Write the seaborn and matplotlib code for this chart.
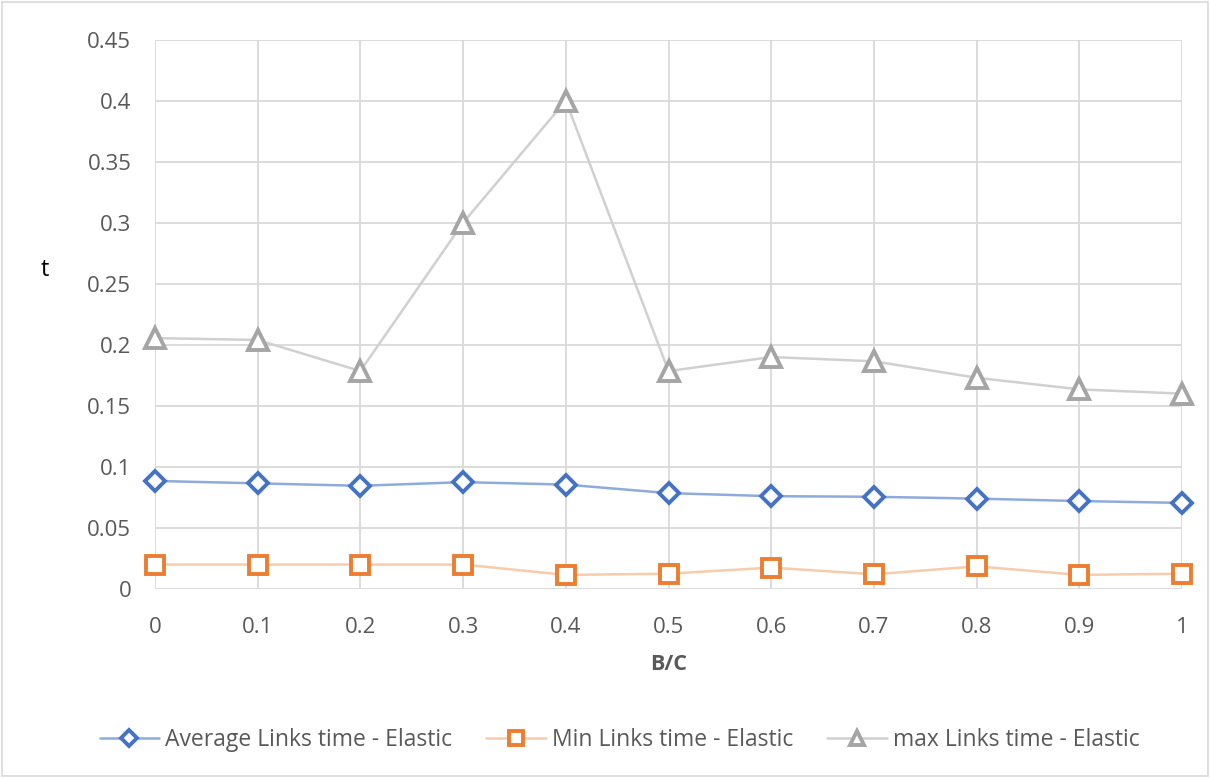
import matplotlib
matplotlib.use("Agg")
import matplotlib.pyplot as plt
import matplotlib.patches as mpatches
import seaborn as sns
import pandas as pd

# values
bc = [0, 0.1, 0.2, 0.3, 0.4, 0.5, 0.6, 0.7, 0.8, 0.9, 1]
avg_time = [0.0885, 0.0865, 0.0845, 0.0875, 0.0855, 0.0785, 0.0760, 0.0755, 0.0740, 0.0720, 0.0705]
min_time = [0.0200, 0.0200, 0.0200, 0.0200, 0.0115, 0.0125, 0.0175, 0.0120, 0.0185, 0.0115, 0.0125]
max_time = [0.2055, 0.2040, 0.1785, 0.3000, 0.4000, 0.1785, 0.1900, 0.1865, 0.1730, 0.1635, 0.1600]
labels = ["Average Links time - Elastic", "Min Links time - Elastic", "max Links time - Elastic"]
yticks = [0, 0.05, 0.1, 0.15, 0.2, 0.25, 0.3, 0.35, 0.4, 0.45]

sns.set_theme(style="white")
plt.rcParams['font.family'] = ['Open Sans', 'DejaVu Sans']

fig = plt.figure(figsize=(12.1, 7.78), dpi=100)
ax = fig.add_axes([0.128, 0.243, 0.849, 0.706])

series = [
    (avg_time, "#8FAADC", "#4472C4", "D", 10.5),
    (min_time, "#F8CBAD", "#ED7D31", "s", 13.5),
    (max_time, "#D0D0D0", "#A5A5A5", "^", 14),
]
for (vals, lc, mc, mk, ms), lab in zip(series, labels):
    df = pd.DataFrame({"B/C": bc, "t": vals})
    sns.lineplot(data=df, x="B/C", y="t", ax=ax, color=lc, linewidth=1.8,
                 marker=mk, markersize=ms, markerfacecolor="white",
                 markeredgecolor=mc, markeredgewidth=2.8, label=lab, zorder=3,
                 clip_on=False)

ax.set_xlim(0, 1)
ax.set_ylim(0, 0.45)
ax.set_xticks(bc)
ax.set_xticklabels([f"{v:g}" for v in bc])
ax.set_yticks(yticks)
ax.set_yticklabels([f"{v:g}" for v in yticks])
ax.grid(True, color="#d9d9d9", linewidth=1.3)
ax.set_axisbelow(True)
for s in ax.spines.values():
    s.set_visible(False)
ax.tick_params(axis="both", colors="#595959", labelsize=16, length=0)
ax.tick_params(axis="x", pad=20)
ax.tick_params(axis="y", pad=17)

ax.set_xlabel("B/C", fontsize=15.5, fontweight="bold", color="#595959", labelpad=12)
ax.set_ylabel("")
fig.text(0.037, 0.653, "t", fontsize=17, color="black", ha="center", va="center")

ax.get_legend().remove()
h, l = ax.get_legend_handles_labels()
fig.legend(h, l, loc="center", bbox_to_anchor=(0.512, 0.049), ncol=3, frameon=False,
           labelcolor="#595959", handlelength=2.6, columnspacing=1.5, markerscale=0.75,
           handletextpad=0.25, prop={'family': ['Open Sans', 'DejaVu Sans'], 'size': 16.5})

fig.patches.append(mpatches.Rectangle((0.002, 0.002), 0.996, 0.996, transform=fig.transFigure,
                                      fill=False, edgecolor="#d9d9d9", linewidth=1.2))

fig.savefig("out.png", dpi=100)
